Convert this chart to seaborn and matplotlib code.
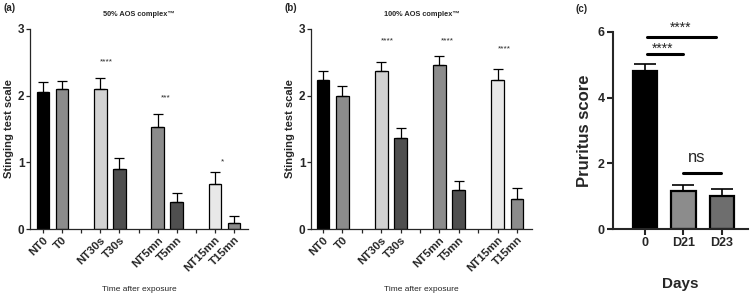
import numpy as np
import pandas as pd
import matplotlib
matplotlib.use("Agg")
import matplotlib.pyplot as plt
import seaborn as sns

# Categories (blank slots between timepoints)
order = ["NT0", "T0", "gap1", "NT30s", "T30s", "gap2", "NT5mn", "T5mn", "gap3", "NT15mn", "T15mn"]
groups = ["NT0", "T0", "NT30s", "T30s", "NT5mn", "T5mn", "NT15mn", "T15mn"]

# Stinging test, 50% AOS complex
mean_50 = [2.05, 2.10, 2.10, 0.90, 1.53, 0.41, 0.68, 0.09]
sem_50 = [0.15, 0.12, 0.16, 0.16, 0.20, 0.13, 0.18, 0.10]
stars_50 = ["****", "***", "*"]

# Stinging test, 100% AOS complex
mean_100 = [2.23, 2.00, 2.37, 1.36, 2.46, 0.59, 2.23, 0.45]
sem_100 = [0.14, 0.15, 0.13, 0.16, 0.14, 0.13, 0.17, 0.16]
stars_100 = ["****", "****", "****"]

# Pruritus score
days = ["0", "D21", "D23"]
prur_mean = [4.82, 1.15, 1.01]
prur_sem = [0.20, 0.20, 0.20]

sns.set_style("ticks")
plt.rcParams['font.family'] = ['Liberation Sans', 'DejaVu Sans']

bar_colors = {"NT0": "#000000", "T0": "#8c8c8c", "NT30s": "#d2d2d2", "T30s": "#4f4f4f",
              "NT5mn": "#8c8c8c", "T5mn": "#4f4f4f", "NT15mn": "#e8e8e8", "T15mn": "#8c8c8c"}

fig = plt.figure(figsize=(7.51, 2.97), dpi=100)
ax_a = fig.add_axes([30 / 751, 68 / 297, 218 / 751, 200 / 297])
ax_b = fig.add_axes([311 / 751, 68 / 297, 221 / 751, 200 / 297])
ax_c = fig.add_axes([613 / 751, 68 / 297, 135 / 751, 197 / 297])


def sting_panel(ax, means, sems, title, letter, stars, star_y, star_dx, xlim):
    df = pd.DataFrame({"group": groups, "score": means})
    sns.barplot(data=df, x="group", y="score", hue="group", order=order, hue_order=groups,
                palette=bar_colors, legend=False, width=0.66, edgecolor="black",
                linewidth=0.9, errorbar=None, ax=ax)
    xpos = [order.index(g) for g in groups]
    ax.errorbar(xpos, means, yerr=[np.zeros(len(sems)), sems], fmt="none",
                ecolor="black", elinewidth=0.9, capsize=3.5, capthick=0.9, zorder=1)
    ax.set_xticks(range(len(order)))
    ax.set_xticklabels([o if not o.startswith("gap") else "" for o in order],
                       rotation=45, ha="right", rotation_mode="anchor",
                       fontsize=8.2, fontweight="bold")
    ax.set_ylim(0, 3)
    ax.set_yticks([0, 1, 2, 3])
    ax.set_yticklabels(["0", "1", "2", "3"], fontsize=8.5, fontweight="bold")
    ax.set_xlim(*xlim)
    ax.set_ylabel("Stinging test scale", fontsize=8, fontweight="bold", labelpad=3)
    ax.set_xlabel("Time after exposure", fontsize=6)
    ax.xaxis.set_label_coords(0.5, -0.285)
    ax.set_title(title, fontsize=5.3, fontweight="bold", pad=9)
    for s in ["left", "bottom"]:
        ax.spines[s].set_linewidth(0.9)
    sns.despine(ax=ax)
    ax.tick_params(width=0.9, length=3, pad=1)
    for lab, g, y, dx in zip(stars, ["NT30s", "NT5mn", "NT15mn"], star_y, star_dx):
        ax.text(order.index(g) + dx, y, lab, ha="center", va="center", fontsize=6)
    ax.text(-0.12, 1.09, letter, transform=ax.transAxes, fontsize=7, fontweight="bold")


sting_panel(ax_a, mean_50, sem_50, "50% AOS complex\u2122", "(a)", stars_50,
            [2.50, 1.96, 1.0], [0.33, 0.4, 0.4], (-0.68, 10.73))
sting_panel(ax_b, mean_100, sem_100, "100% AOS complex\u2122", "(b)", stars_100,
            [2.82, 2.82, 2.70], [0.3, 0.4, 0.35], (-0.62, 10.77))

# Pruritus panel
dfc = pd.DataFrame({"day": days, "score": prur_mean})
sns.barplot(data=dfc, x="day", y="score", hue="day", order=days,
            palette=["#000000", "#8c8c8c", "#6e6e6e"], legend=False, width=0.63,
            edgecolor="black", linewidth=1.6, errorbar=None, ax=ax_c)
ax_c.errorbar(range(3), prur_mean, yerr=[np.zeros(3), prur_sem], fmt="none",
              ecolor="black", elinewidth=1.2, capsize=8, capthick=1.2, zorder=1)
ax_c.set_ylim(0, 6)
ax_c.set_xlim(-0.83, 2.68)
ax_c.set_yticks([0, 2, 4, 6])
ax_c.set_yticklabels(["0", "2", "4", "6"], fontsize=9, fontweight="bold")
ax_c.set_xticks(range(3))
ax_c.set_xticklabels(days, fontsize=9, fontweight="bold")
ax_c.set_ylabel("Pruritus score", fontsize=12, fontweight="bold", labelpad=4)
ax_c.set_xlabel("Days", fontsize=11, fontweight="bold")
ax_c.xaxis.set_label_coords(0.5, -0.245)
for s in ["left", "bottom"]:
    ax_c.spines[s].set_linewidth(1.5)
sns.despine(ax=ax_c)
ax_c.tick_params(width=1.5, length=4, pad=2)

ax_c.plot([0.05, 1.84], [5.85, 5.85], color="black", lw=2.2, clip_on=False)
ax_c.plot([0.05, 0.99], [5.33, 5.33], color="black", lw=2.2, clip_on=False)
ax_c.plot([0.99, 1.97], [1.71, 1.71], color="black", lw=2.2)
ax_c.text(0.94, 6.12, "****", ha="center", va="center", fontsize=10, clip_on=False)
ax_c.text(0.47, 5.50, "****", ha="center", va="center", fontsize=10)
ax_c.text(1.35, 2.18, "ns", ha="center", va="center", fontsize=12)
ax_c.text(-0.28, 1.1, "(c)", transform=ax_c.transAxes, fontsize=7, fontweight="bold")

fig.savefig("out.png", dpi=100)
